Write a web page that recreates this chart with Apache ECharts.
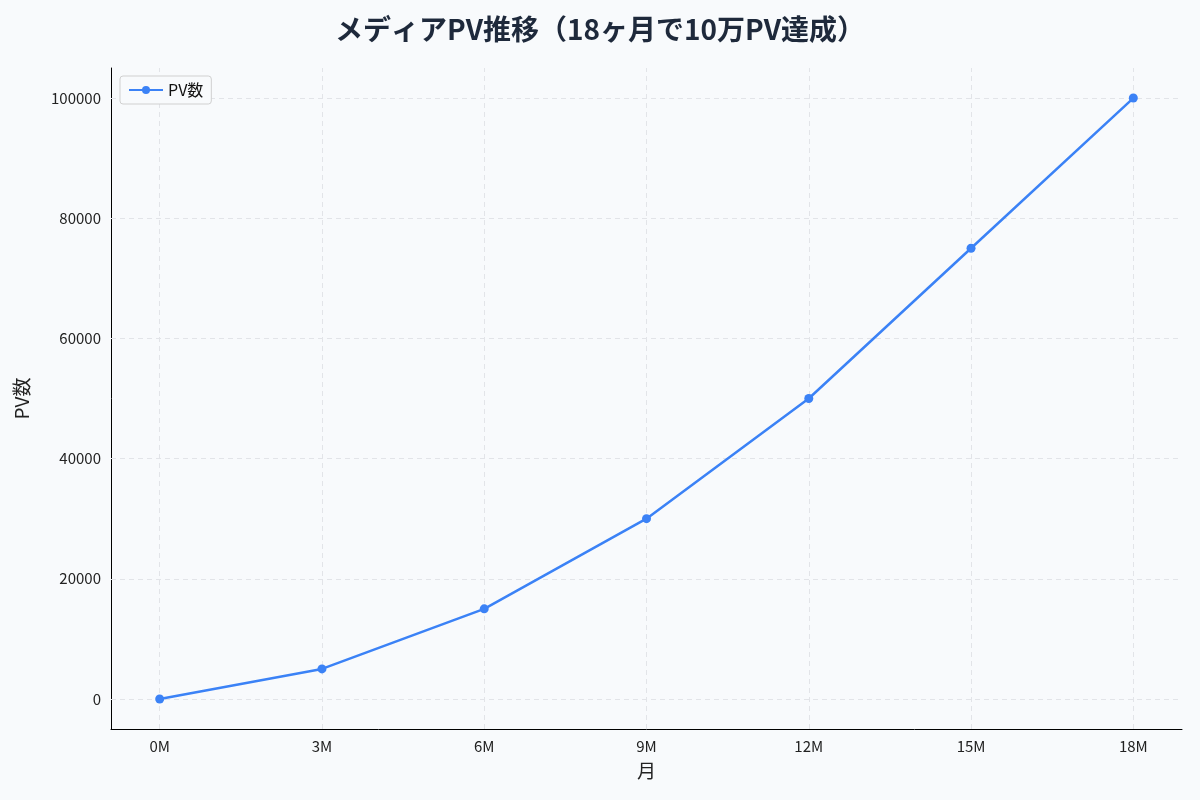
<!DOCTYPE html>
<html><head><meta charset="utf-8">
<script src="https://cdn.jsdelivr.net/npm/echarts@6/dist/echarts.min.js"></script>
<style>html,body{margin:0;padding:0;background:#f8fafc}#c{width:1200px;height:800px}</style>
</head><body><div id="c"></div>
<script>
const months = [0, 3, 6, 9, 12, 15, 18];
const pv = [0, 5000, 15000, 30000, 50000, 75000, 100000];
const yTicks = [0, 20000, 40000, 60000, 80000, 100000];
const seriesName = 'PV数';
const font = '"Noto Sans CJK JP", "Noto Sans", sans-serif';
const isMul = (v, m) => Math.abs(v / m - Math.round(v / m)) < 1e-6;
const gridStyle = {color: '#e2e4e8', type: [5, 4], width: 1};
const chart = echarts.init(document.getElementById('c'));
chart.setOption({
  backgroundColor: '#f8fafc',
  textStyle: {fontFamily: font},
  title: {text: 'メディアPV推移（18ヶ月で10万PV達成）', left: 'center', top: 10,
    textStyle: {fontSize: 28, fontWeight: 'bold', color: '#1e293b', fontFamily: font}},
  legend: {left: 120, top: 76, data: [seriesName], backgroundColor: '#f8fafc',
    borderColor: '#d0d0d0', borderWidth: 1, borderRadius: 3, padding: [6, 8],
    itemWidth: 34, itemHeight: 10, textStyle: {fontSize: 16, color: '#111'}},
  grid: {left: 111, right: 18, top: 68, bottom: 71},
  xAxis: {type: 'value', min: -0.9, max: 18.9, interval: 0.3,
    name: '月', nameLocation: 'middle', nameGap: 32,
    nameTextStyle: {fontSize: 19, color: '#222'},
    axisLine: {show: true, onZero: false, lineStyle: {color: '#000'}}, axisTick: {show: false},
    splitLine: {show: false},
    axisLabel: {fontSize: 15, color: '#222', margin: 10,
      formatter: v => isMul(v, 3) && v >= 0 ? Math.round(v) + 'M' : ''}},
  yAxis: {type: 'value', min: -5000, max: 105000, interval: 5000,
    name: 'PV数', nameLocation: 'middle', nameGap: 80,
    nameTextStyle: {fontSize: 19, color: '#222'},
    axisLine: {show: true, onZero: false, lineStyle: {color: '#000'}}, axisTick: {show: false},
    splitLine: {show: false},
    axisLabel: {fontSize: 15, color: '#222', margin: 10,
      formatter: v => isMul(v, 20000) && v >= 0 ? String(Math.round(v)) : ''}},
  series: [{
    name: 'grid', type: 'line', data: [], z: 1,
    markLine: {silent: true, symbol: 'none', label: {show: false}, lineStyle: gridStyle, z: 1,
      data: yTicks.map(v => ({yAxis: v})).concat(months.map(m => ({xAxis: m})))}
  }, {
    name: seriesName, type: 'line', data: months.map((m, i) => [m, pv[i]]),
    symbol: 'circle', symbolSize: 9, color: '#3b82f6',
    lineStyle: {width: 2.5, color: '#3b82f6'}, itemStyle: {color: '#3b82f6'},
    z: 3
  }]
});
</script></body></html>
